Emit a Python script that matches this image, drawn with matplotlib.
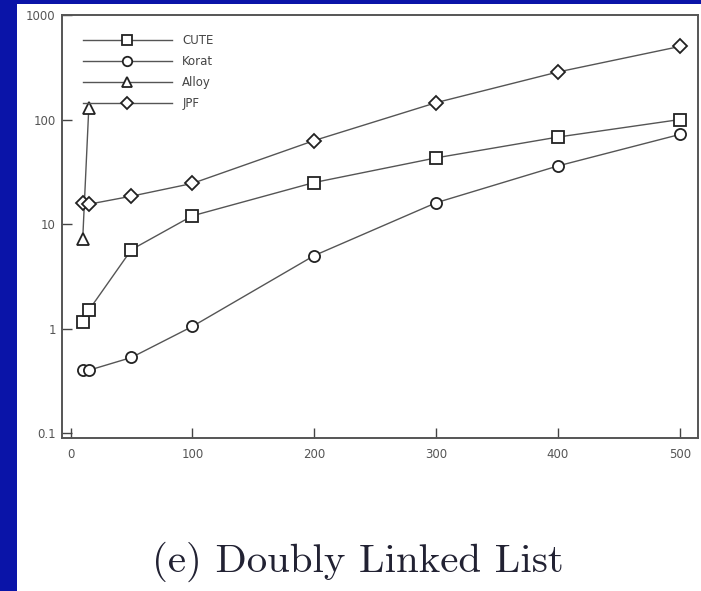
import matplotlib
matplotlib.use("Agg")
import matplotlib.pyplot as plt
from matplotlib.patches import Rectangle

# data
x_sizes = [10, 15, 50, 100, 200, 300, 400, 500]
cute = [1.15, 1.5, 5.7, 12, 25, 43, 68, 100]
korat = [0.4, 0.4, 0.53, 1.05, 5, 16, 36, 72]
alloy_x = [10, 15]
alloy = [7.2, 130]
jpf = [16, 15.5, 18.5, 24.5, 63, 145, 285, 500]

x_ticks = [0, 100, 200, 300, 400, 500]
y_ticks = [0.1, 1, 10, 100, 1000]
y_tick_labels = ["0.1", "1", "10", "100", "1000"]

fig = plt.figure(figsize=(7.01, 5.91), dpi=100)
fig.patch.set_facecolor("#0a14a8")
# white slide panel behind the axes
fig.patches.append(Rectangle((17 / 701, 0), 1, 1 - 4 / 591, transform=fig.transFigure,
                             facecolor="white", edgecolor="none", zorder=-5))

ax = fig.add_axes([62 / 701, 1 - 438 / 591, 636 / 701, 423 / 591])
ax.set_zorder(2)
ax.set_facecolor("white")

line_kw = dict(color="#555555", lw=1.0, markerfacecolor="white",
               markeredgecolor="#222222", markeredgewidth=1.3, markersize=8)
ax.plot(x_sizes, cute, marker="s", label="CUTE", **line_kw)
ax.plot(x_sizes, korat, marker="o", label="Korat", **line_kw)
ax.plot(alloy_x, alloy, marker="^", label="Alloy", **line_kw)
ax.plot(x_sizes, jpf, marker="D", label="JPF", **dict(line_kw, markersize=7))

ax.set_yscale("log")
ax.set_xlim(-7, 515)
ax.set_ylim(0.09, 1000)
ax.set_xticks(x_ticks)
ax.set_yticks(y_ticks)
ax.set_yticklabels(y_tick_labels)
ax.minorticks_off()
ax.tick_params(direction="in", length=7, width=1, colors="#444444",
               labelsize=8.5, labelcolor="#555555")
ax.tick_params(axis="y", pad=4.5)
ax.tick_params(axis="x", pad=7)
for s in ax.spines.values():
    s.set_color("#555555")
    s.set_linewidth(1.4)

leg = ax.legend(loc="upper left", bbox_to_anchor=(0.033, 0.955), frameon=False,
                fontsize=8.5, handlelength=7.5, handletextpad=0.9,
                labelspacing=0.68, borderpad=0, borderaxespad=0, markerscale=0.85)
for t in leg.get_texts():
    t.set_color("#444444")

fig.text(0.51, 0.032, "(e) Doubly Linked List", family="cmr10", fontsize=29.5,
         ha="center", va="baseline", color="#222233")

fig.savefig("out.png", dpi=100, facecolor=fig.get_facecolor())
